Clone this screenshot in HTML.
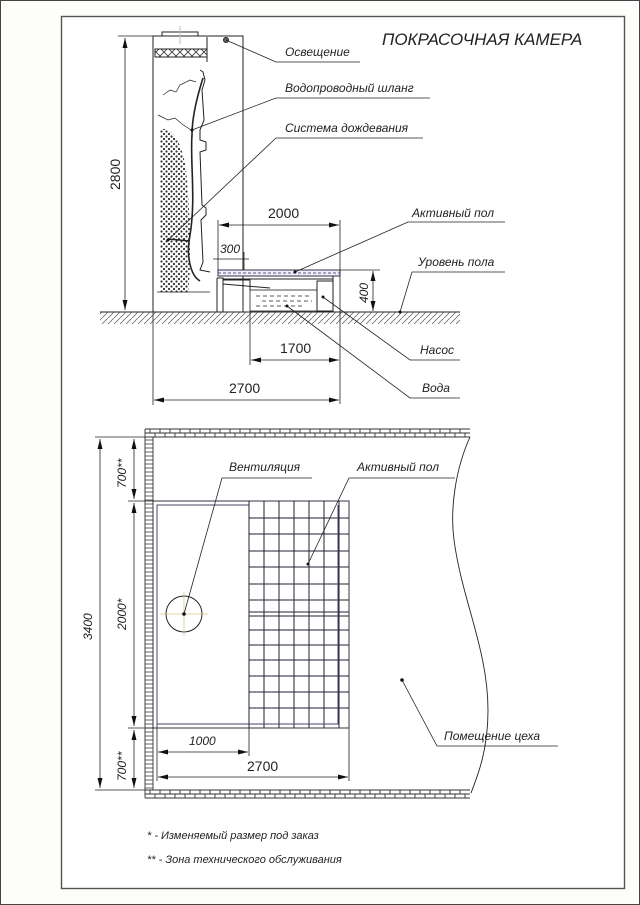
<!DOCTYPE html>
<html><head><meta charset="utf-8"><style>
html,body{margin:0;padding:0;background:#fff}
svg{display:block}
text{font-family:"Liberation Sans","DejaVu Sans",sans-serif;fill:#222}
.l{font-style:italic;font-size:12px}
.d{font-size:14px}
.di{font-style:italic;font-size:12px}
</style></head><body>
<svg width="640" height="905" viewBox="0 0 640 905" xmlns="http://www.w3.org/2000/svg">
<defs>
<marker id="a" viewBox="0 0 10 6" refX="10" refY="3" markerWidth="10" markerHeight="6" orient="auto-start-reverse" markerUnits="userSpaceOnUse"><path d="M0,0.5 L10,3 L0,5.5z" fill="#111"/></marker>
<pattern id="hatch" width="6" height="6" patternUnits="userSpaceOnUse">
<path d="M0,6L6,0" stroke="#555" stroke-width="0.7"/></pattern>
<pattern id="dots" width="5" height="5" patternUnits="userSpaceOnUse">
<circle cx="1.5" cy="1.5" r="1.1" fill="#333"/><circle cx="4" cy="4" r="1.1" fill="#333"/></pattern>
<pattern id="xh" width="8" height="8" patternUnits="userSpaceOnUse">
<path d="M0,0L8,8M8,0L0,8" stroke="#333" stroke-width="0.8"/></pattern>
</defs>
<rect x="0.5" y="0.5" width="639" height="904" fill="#fdfdfb" stroke="#444"/>
<rect x="61.5" y="16.5" width="563" height="872" fill="#fff" stroke="#555" stroke-width="1.4"/>

<text x="382" y="45" style="font-style:italic;font-size:17px">ПОКРАСОЧНАЯ КАМЕРА</text>

<g stroke="#222" fill="none" stroke-width="1">
<rect x="153" y="36" width="90" height="276"/>
<rect x="162" y="32" width="36" height="4"/>
<line x1="180" y1="26" x2="180" y2="44" stroke="#bbb"/>
<rect x="155" y="49" width="52" height="8" fill="url(#xh)"/>
<line x1="207" y1="37" x2="207" y2="62"/>
<path d="M200,70 L203,72 L205,80 L202,90 L204,120 L200,130 L200,140 L206,142 L206,150 L200,152 L202,205 L206,208 L206,215 L201,220 L203,262 L200,270 L210,272"/>
<path d="M203,78 C196,100 192,120 192,135 C190,160 196,200 190,235 C186,255 190,275 200,281" stroke-width="1.6"/>
<path d="M163,95 L170,90 L176,92 L180,85 L190,80 L196,82" stroke-width="0.7"/>
<path d="M158,115 L168,120 L175,118 L182,124 L191,130" stroke-width="0.7"/>
<path d="M160,130 C170,125 182,140 186,170 C190,210 192,260 188,293 L160,292 Z" fill="url(#dots)" stroke="none"/>
<line x1="157" y1="292" x2="210" y2="292" stroke-width="0.8"/>
<path d="M168,239 L190,241" stroke-width="1.4"/>
<circle cx="226" cy="40" r="2.5" fill="#666"/>
<rect x="218" y="270" width="122" height="6" fill="#eef" stroke="#334"/>
<line x1="218" y1="273" x2="340" y2="273" stroke="#557" stroke-dasharray="3,2"/>
<path d="M217,278 H223 V312 M217,278 V312 M223,280 H250 L250,290 M223,284 L270,288"/>
<line x1="223" y1="279" x2="333" y2="279"/>
<rect x="317" y="281" width="16" height="30"/>
<line x1="333" y1="276" x2="333" y2="312"/>
<rect x="250" y="290" width="67" height="21" stroke-width="0.8"/>
<path d="M256,296H310M262,301H312M256,306H305" stroke-dasharray="4,3" stroke-width="0.7"/>
<line x1="100" y1="312" x2="460" y2="312"/>
<rect x="100" y="312" width="360" height="12" fill="url(#hatch)" stroke="none"/>
<line x1="118" y1="36" x2="153" y2="36" stroke-width="0.8"/>
<line x1="125" y1="38" x2="125" y2="310" marker-start="url(#a)" marker-end="url(#a)" stroke-width="0.8"/>
<line x1="218" y1="220" x2="218" y2="270" stroke-width="0.8"/>
<line x1="340" y1="220" x2="340" y2="404" stroke-width="0.8"/>
<line x1="219" y1="225" x2="339" y2="225" marker-start="url(#a)" marker-end="url(#a)" stroke-width="0.8"/>
<line x1="244" y1="252" x2="244" y2="270" stroke-width="0.8"/>
<line x1="213" y1="259" x2="249" y2="259" stroke-width="0.8"/>
<line x1="340" y1="270" x2="380" y2="270" stroke-width="0.8"/>
<line x1="373" y1="271" x2="373" y2="311" marker-start="url(#a)" marker-end="url(#a)" stroke-width="0.8"/>
<line x1="250" y1="312" x2="250" y2="365" stroke-width="0.8"/>
<line x1="251" y1="360" x2="339" y2="360" marker-start="url(#a)" marker-end="url(#a)" stroke-width="0.8"/>
<line x1="153" y1="312" x2="153" y2="405" stroke-width="0.8"/>
<line x1="154" y1="400" x2="339" y2="400" marker-start="url(#a)" marker-end="url(#a)" stroke-width="0.8"/>
<path d="M226,40 L276,62 H360" stroke-width="0.8"/>
<path d="M192,130 L276,98 H430" stroke-width="0.8"/>
<path d="M168,240 L276,138 H423" stroke-width="0.8"/>
<path d="M295,272 L408,222 H505" stroke-width="0.8"/>
<path d="M400,312 L412,272 H505" stroke-width="0.8"/>
<path d="M323,297 L410,360 H460" stroke-width="0.8"/>
<path d="M287,306 L410,398 H460" stroke-width="0.8"/>
</g>
<g fill="#111"><circle cx="192" cy="130" r="1.5"/><circle cx="168" cy="240" r="1.5"/><circle cx="295" cy="272" r="1.5"/><circle cx="400" cy="312" r="1.5"/><circle cx="323" cy="297" r="1.5"/><circle cx="287" cy="306" r="1.5"/></g>
<text class="l" x="285" y="56">Освещение</text>
<text class="l" x="285" y="92">Водопроводный шланг</text>
<text class="l" x="285" y="132">Система дождевания</text>
<text class="l" x="412" y="217">Активный пол</text>
<text class="l" x="418" y="266">Уровень пола</text>
<text class="l" x="420" y="354">Насос</text>
<text class="l" x="422" y="392">Вода</text>
<text class="d" x="268" y="218">2000</text>
<text class="di" x="220" y="253">300</text>
<text class="d" x="280" y="353">1700</text>
<text class="d" x="229" y="393">2700</text>
<text class="d" transform="translate(120,190) rotate(-90)">2800</text>
<text class="di" transform="translate(368,303) rotate(-90)">400</text>

<g stroke="#222" fill="none" stroke-width="1">
<!-- walls -->
<g stroke="#333" stroke-width="0.9">
<path d="M145,429H470M145,433H470M145,437H470"/>
<path d="M145,790H470M145,794H470M145,798H470"/>
<path d="M145,429V798M153,437V790"/>
<path d="M150,429V433M160,429V433M170,429V433M180,429V433M190,429V433M200,429V433M210,429V433M220,429V433M230,429V433M240,429V433M250,429V433M260,429V433M270,429V433M280,429V433M290,429V433M300,429V433M310,429V433M320,429V433M330,429V433M340,429V433M350,429V433M360,429V433M370,429V433M380,429V433M390,429V433M400,429V433M410,429V433M420,429V433M430,429V433M440,429V433M450,429V433M460,429V433" />
<path d="M155,433V437M165,433V437M175,433V437M185,433V437M195,433V437M205,433V437M215,433V437M225,433V437M235,433V437M245,433V437M255,433V437M265,433V437M275,433V437M285,433V437M295,433V437M305,433V437M315,433V437M325,433V437M335,433V437M345,433V437M355,433V437M365,433V437M375,433V437M385,433V437M395,433V437M405,433V437M415,433V437M425,433V437M435,433V437M445,433V437M455,433V437M465,433V437"/>
<path d="M150,790V794M160,790V794M170,790V794M180,790V794M190,790V794M200,790V794M210,790V794M220,790V794M230,790V794M240,790V794M250,790V794M260,790V794M270,790V794M280,790V794M290,790V794M300,790V794M310,790V794M320,790V794M330,790V794M340,790V794M350,790V794M360,790V794M370,790V794M380,790V794M390,790V794M400,790V794M410,790V794M420,790V794M430,790V794M440,790V794M450,790V794M460,790V794"/>
<path d="M155,794V798M165,794V798M175,794V798M185,794V798M195,794V798M205,794V798M215,794V798M225,794V798M235,794V798M245,794V798M255,794V798M265,794V798M275,794V798M285,794V798M295,794V798M305,794V798M315,794V798M325,794V798M335,794V798M345,794V798M355,794V798M365,794V798M375,794V798M385,794V798M395,794V798M405,794V798M415,794V798M425,794V798M435,794V798M445,794V798M455,794V798M465,794V798"/>
</g>
<path d="M145,440 H153 M145,444 H153 M145,448 H153 M145,452 H153 M145,456 H153 M145,460 H153 M145,464 H153 M145,468 H153 M145,472 H153 M145,476 H153 M145,480 H153 M145,484 H153 M145,488 H153 M145,492 H153 M145,496 H153 M145,500 H153 M145,504 H153 M145,508 H153 M145,512 H153 M145,516 H153 M145,520 H153 M145,524 H153 M145,528 H153 M145,532 H153 M145,536 H153 M145,540 H153 M145,544 H153 M145,548 H153 M145,552 H153 M145,556 H153 M145,560 H153 M145,564 H153 M145,568 H153 M145,572 H153 M145,576 H153 M145,580 H153 M145,584 H153 M145,588 H153 M145,592 H153 M145,596 H153 M145,600 H153 M145,604 H153 M145,608 H153 M145,612 H153 M145,616 H153 M145,620 H153 M145,624 H153 M145,628 H153 M145,632 H153 M145,636 H153 M145,640 H153 M145,644 H153 M145,648 H153 M145,652 H153 M145,656 H153 M145,660 H153 M145,664 H153 M145,668 H153 M145,672 H153 M145,676 H153 M145,680 H153 M145,684 H153 M145,688 H153 M145,692 H153 M145,696 H153 M145,700 H153 M145,704 H153 M145,708 H153 M145,712 H153 M145,716 H153 M145,720 H153 M145,724 H153 M145,728 H153 M145,732 H153 M145,736 H153 M145,740 H153 M145,744 H153 M145,748 H153 M145,752 H153 M145,756 H153 M145,760 H153 M145,764 H153 M145,768 H153 M145,772 H153 M145,776 H153 M145,780 H153 M145,784 H153 M145,788 H153" stroke="#333" stroke-width="0.8"/>
<path d="M470,437 C455,470 450,510 454,540 C462,600 488,650 488,710 C488,750 478,775 471,793" stroke-width="0.9"/>
<rect x="153" y="501" width="196" height="227" stroke="#334"/>
<path d="M157,728 V505 H249 M157,724 H249" stroke="#446"/>
<g stroke="#223">
<path d="M249,501V728M264,501V728M279,501V728M294,501V728M309,501V728M324,501V728M339,501V728"/>
<path d="M249,518H349M249,534H349M249,551H349M249,567H349M249,584H349M249,600H349M249,612H349M249,616H349M249,630H349M249,645H349M249,660H349M249,676H349M249,692H349M249,708H349"/>
<path d="M338,505V724H249" stroke="#446"/>
</g>
<circle cx="184" cy="614" r="18"/>
<path d="M160,614H208M184,592V636" stroke="#d8c890" stroke-width="0.8"/>
<path d="M95,437H145M95,790H145M128,501H153M128,728H153" stroke-width="0.8"/>
<line x1="100" y1="439" x2="100" y2="788" marker-start="url(#a)" marker-end="url(#a)" stroke-width="0.8"/>
<line x1="134" y1="439" x2="134" y2="499" marker-start="url(#a)" marker-end="url(#a)" stroke-width="0.8"/>
<line x1="134" y1="503" x2="134" y2="726" marker-start="url(#a)" marker-end="url(#a)" stroke-width="0.8"/>
<line x1="134" y1="730" x2="134" y2="788" marker-start="url(#a)" marker-end="url(#a)" stroke-width="0.8"/>
<path d="M249,728V756M349,728V781M157,728V781" stroke-width="0.8"/>
<line x1="158" y1="752" x2="248" y2="752" marker-start="url(#a)" marker-end="url(#a)" stroke-width="0.8"/>
<line x1="158" y1="777" x2="348" y2="777" marker-start="url(#a)" marker-end="url(#a)" stroke-width="0.8"/>
<path d="M184,614 L222,478 H312" stroke-width="0.8"/>
<path d="M308,564 L349,478 H455" stroke-width="0.8"/>
<path d="M402,680 L437,746 H558" stroke-width="0.8"/>
</g>
<g fill="#111"><circle cx="184" cy="614" r="1.8"/><circle cx="308" cy="564" r="1.5"/><circle cx="402" cy="680" r="1.8"/></g>
<text class="l" x="229" y="471">Вентиляция</text>
<text class="l" x="357" y="471">Активный пол</text>
<text class="l" x="444" y="740">Помещение цеха</text>
<text class="di" x="189" y="745">1000</text>
<text class="d" x="247" y="771">2700</text>
<text class="di" transform="translate(92,640) rotate(-90)">3400</text>
<text class="di" transform="translate(126,488) rotate(-90)">700**</text>
<text class="di" transform="translate(126,630) rotate(-90)">2000*</text>
<text class="di" transform="translate(126,781) rotate(-90)">700**</text>
<text class="l" x="147" y="839" style="font-size:11px">*  - Изменяемый размер под заказ</text>
<text class="l" x="147" y="863" style="font-size:11px">**  - Зона технического обслуживания</text>
</svg>
</body></html>
